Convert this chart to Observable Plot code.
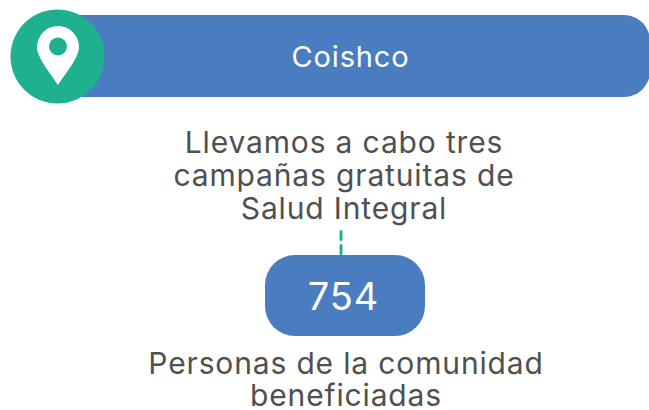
<!DOCTYPE html>
<html><head><meta charset="utf-8">
<style>html,body{margin:0;padding:0;background:#fff}svg{display:block}</style>
<script src="https://cdn.jsdelivr.net/npm/d3@7"></script>
<script src="https://cdn.jsdelivr.net/npm/@observablehq/plot@0.6"></script>
</head><body><script>
const place = ["Coishco"];
const descriptionLines = ["Llevamos a cabo tres","campañas gratuitas de","Salud Integral"];
const descriptionY = [143,176,209];
const value = ["754"];
const valueLabelLines = ["Personas de la comunidad","beneficiadas"];
const valueLabelY = [363.5,396];
const blue = "#4a7dc0", green = "#1fb18f", ink = "#505050";
const font = "Inter, 'Noto Sans', sans-serif";
const pin = {draw(c,size){
  const s = Math.sqrt(size/Math.PI)/21;
  const R = 21*s;
  c.moveTo(0,30*s);
  c.bezierCurveTo(-7*s,19*s,-21*s,3*s,-21*s,-8*s);
  c.arc(0,-8*s,R,Math.PI,2*Math.PI);
  c.bezierCurveTo(21*s,3*s,7*s,19*s,0,30*s);
  c.closePath();
}};
const chart = Plot.plot({
  width:649,height:410,margin:0,
  style:{letterSpacing:"0.85px"},
  x:{domain:[0,649],range:[0,649],axis:null},
  y:{domain:[0,410],range:[0,410],axis:null},
  marks:[
    Plot.rect([{x1:45,x2:650,y1:15,y2:97}],{x1:"x1",x2:"x2",y1:"y1",y2:"y2",fill:blue,rx:26}),
    Plot.dot([{x:57,y:56}],{x:"x",y:"y",r:47,fill:green}),
    Plot.dot([{x:57.5,y:54.5}],{x:"x",y:"y",r:21,symbol:pin,fill:"#fff"}),
    Plot.dot([{x:57.5,y:46}],{x:"x",y:"y",r:9,fill:green}),
    Plot.text(place,{x:()=>350,y:()=>57,text:d=>d,fill:"#fff",fontSize:29,fontFamily:font,fontWeight:400}),
    Plot.text(descriptionLines,{x:()=>343.5,y:(d,i)=>descriptionY[i],text:d=>d,fill:ink,fontSize:30,fontFamily:font,fontWeight:400}),
    Plot.line([{x:340.5,y:231},{x:340.5,y:254}],{x:"x",y:"y",stroke:green,strokeWidth:3,strokeDasharray:"8 6"}),
    Plot.rect([{x1:265,x2:425,y1:255,y2:336}],{x1:"x1",x2:"x2",y1:"y1",y2:"y2",fill:blue,rx:30}),
    Plot.text(value,{x:()=>343,y:()=>297,text:d=>d,fill:"#fff",fontSize:38,fontFamily:font,fontWeight:400}),
    Plot.text(valueLabelLines,{x:()=>345.5,y:(d,i)=>valueLabelY[i],text:d=>d,fill:ink,fontSize:30,fontFamily:font,fontWeight:400})
  ]
});
document.body.appendChild(chart);
</script></body></html>
